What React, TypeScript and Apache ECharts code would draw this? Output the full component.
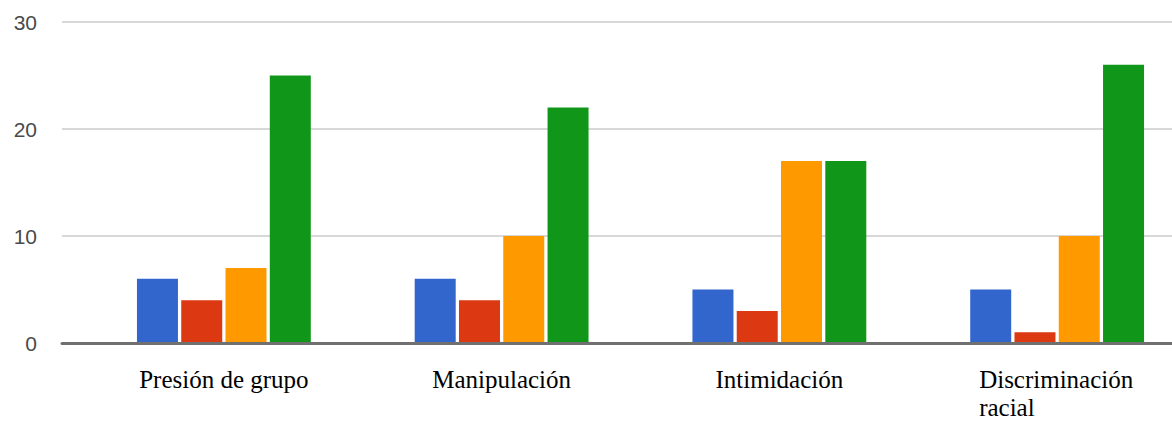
import React, { useEffect, useRef } from "react";
import * as echarts from "echarts";

const categories = ["Presión de grupo", "Manipulación", "Intimidación", "Discriminación racial"];
const seriesBlue = [6, 6, 5, 5];
const seriesRed = [4, 4, 3, 1];
const seriesOrange = [7, 10, 17, 10];
const seriesGreen = [25, 22, 17, 26];
const colors = ["#3366cc", "#dc3912", "#ff9900", "#109618"];
const yTicks = { min: 0, max: 30, interval: 10 };

export default function App() {
  const ref = useRef<HTMLDivElement>(null);
  useEffect(() => {
    if (!ref.current) return;
    const chart = echarts.init(ref.current, null, { renderer: "svg" });
    const allSeries = [seriesBlue, seriesRed, seriesOrange, seriesGreen];
    const serif = "'Liberation Serif', 'Times New Roman', serif";
    chart.setOption({
      animation: false,
      backgroundColor: "#ffffff",
      grid: [
        { left: 85, width: 1111, top: 22, bottom: 78, containLabel: false, outerBoundsMode: "none" },
        { left: 62, right: 0, top: 22, bottom: 78, containLabel: false, outerBoundsMode: "none" },
      ],
      xAxis: [
        {
          type: "category",
          gridIndex: 0,
          data: categories,
          axisLine: { show: false },
          axisTick: { show: false },
          axisLabel: {
            margin: 22,
            interval: 0,
            color: "#000000",
            fontFamily: serif,
            fontSize: 25,
            lineHeight: 28,
            formatter: (v: string) => {
              if (v === "Discriminación racial") {
                return "{l|Discriminación}\n{l|racial}";
              }
              return v;
            },
            rich: {
              l: {
                width: 156,
                align: "left",
                color: "#000000",
                fontFamily: serif,
                fontSize: 25,
                lineHeight: 28,
              },
            },
          },
        },
        {
          type: "value",
          gridIndex: 1,
          min: 0,
          max: 1,
          z: 5,
          axisLine: { show: true, lineStyle: { color: "#707070", width: 3 } },
          axisTick: { show: false },
          axisLabel: { show: false },
          splitLine: { show: false },
        },
      ],
      yAxis: [
        {
          type: "value",
          gridIndex: 0,
          min: yTicks.min,
          max: yTicks.max,
          interval: yTicks.interval,
          show: false,
          splitLine: { show: false },
        },
        {
          type: "value",
          gridIndex: 1,
          min: yTicks.min,
          max: yTicks.max,
          interval: yTicks.interval,
          axisLine: { show: false },
          axisTick: { show: false },
          axisLabel: {
            margin: 25,
            color: "#4a4a4a",
            fontFamily: "'Liberation Sans', Arial, sans-serif",
            fontSize: 21,
          },
          splitLine: { show: true, lineStyle: { color: "#d8d8d8", width: 2 } },
        },
      ],
      series: allSeries.map((d, i) => ({
        type: "bar",
        xAxisIndex: 0,
        yAxisIndex: 0,
        data: d,
        barWidth: 41,
        barGap: "8%",
        itemStyle: { color: colors[i] },
        z: 3,
      })),
    });
    return () => chart.dispose();
  }, []);
  return <div ref={ref} style={{ width: 1172, height: 421, position: "absolute", left: 0, top: 0 }} />;
}
